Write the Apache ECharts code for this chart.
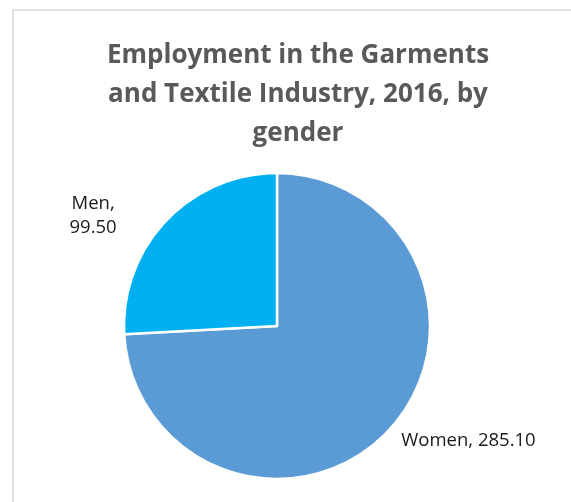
<!DOCTYPE html>
<html>
<head>
<meta charset="utf-8">
<script src="https://cdn.jsdelivr.net/npm/echarts@6/dist/echarts.min.js"></script>
<style>
  html, body { margin: 0; padding: 0; background: #ffffff; }
  #chart { width: 571px; height: 502px; }
</style>
</head>
<body>
<div id="chart"></div>
<script>
// Employment by gender (thousands), garments and textile industry, 2016
const categories = ['Women', 'Men'];
const values = [285.10, 99.50];
const sliceColors = ['#5B9BD5', '#00B0F0'];
const titleText = 'Employment in the Garments\nand Textile Industry, 2016, by\ngender';

const chart = echarts.init(document.getElementById('chart'), null, { renderer: 'canvas' });

// per-slice label guide lengths (the guide lines themselves stay hidden)
const guideLen = [{ length: 14, length2: 0 }, { length: 8, length2: 64 }];

const option = {
  animation: false,
  backgroundColor: '#ffffff',
  title: {
    text: titleText,
    left: 293,
    top: 31,
    textAlign: 'center',
    textStyle: {
      fontFamily: 'Open Sans',
      fontWeight: 'bold',
      fontSize: 26,
      lineHeight: 39,
      color: '#595959'
    }
  },
  graphic: [{
    type: 'rect',
    shape: { x: 13, y: 10, width: 600, height: 520 },
    style: { fill: 'none', stroke: '#d9d9d9', lineWidth: 1.5 },
    silent: true
  }],
  series: [{
    type: 'pie',
    center: [277, 326],
    radius: [0, 153],
    startAngle: 90,
    clockwise: true,
    avoidLabelOverlap: false,
    itemStyle: { borderColor: '#ffffff', borderWidth: 2.5 },
    label: {
      show: true,
      position: 'outside',
      fontFamily: 'Open Sans',
      fontSize: 18.5,
      lineHeight: 24,
      color: '#1a1a1a',
      distanceToLabelLine: 3
    },
    labelLine: { show: false },
    // the two-line label on the left is centred on its own lines
    labelLayout: (params) => (params.dataIndex === 1 ? { align: 'center' } : {}),
    data: categories.map((name, i) => ({
      name: name,
      value: values[i],
      itemStyle: { color: sliceColors[i] },
      labelLine: { show: false, length: guideLen[i].length, length2: guideLen[i].length2 },
      label: {
        formatter: i === 1
          ? (p) => p.name + ',\n' + p.value.toFixed(2)
          : (p) => p.name + ', ' + p.value.toFixed(2)
      }
    }))
  }]
};

chart.setOption(option);
</script>
</body>
</html>
